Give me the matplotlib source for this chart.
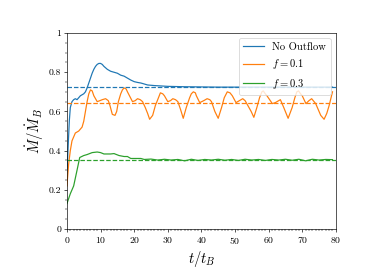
import numpy as np
import matplotlib
matplotlib.use('Agg')
import matplotlib.pyplot as plt
from matplotlib.ticker import MultipleLocator, FuncFormatter

plt.rcParams['font.family'] = 'serif'
plt.rcParams['font.serif'] = ['cmr10', 'DejaVu Serif']
plt.rcParams['mathtext.fontset'] = 'cm'
plt.rcParams['axes.unicode_minus'] = False
plt.rcParams['axes.formatter.use_mathtext'] = True

# ==================== data ====================
t_none = [0, 0.3, 0.7, 1.0, 1.5, 2, 2.5, 3, 3.5, 4, 4.5, 5, 5.5, 6, 6.5, 7, 7.5, 8, 8.5, 9,
          9.5, 10, 10.5, 11, 12, 13, 14, 15, 16, 17, 18, 19, 20, 21, 22, 23, 24, 26, 28, 30,
          35, 40, 45, 50, 55, 60, 65, 70, 75, 79]
mdot_none = [0.27, 0.40, 0.55, 0.62, 0.65, 0.66, 0.665, 0.66, 0.67, 0.68, 0.685, 0.69, 0.70,
             0.72, 0.745, 0.77, 0.795, 0.815, 0.83, 0.84, 0.845, 0.845, 0.84, 0.83, 0.815,
             0.805, 0.80, 0.795, 0.785, 0.78, 0.77, 0.76, 0.752, 0.748, 0.745, 0.74, 0.735,
             0.732, 0.73, 0.728, 0.726, 0.725, 0.724, 0.724, 0.724, 0.724, 0.724, 0.724,
             0.724, 0.724]

t_f01 = [0, 0.5, 1.0, 1.5, 2.5, 3.5, 4.5, 5.0, 5.5, 6.0, 6.5, 7.0, 7.5, 8.0, 9.0, 9.8, 10.5,
         11.5, 12.3, 12.8, 13.5, 14.3, 14.8, 15.3, 16.0, 16.5, 17.0, 17.6, 18.0, 19.5, 20.3,
         21.0, 21.8, 22.5, 23.3, 24.0, 24.6, 25.5, 26.3, 27.0, 27.8, 28.5, 29.0, 30.0, 30.8,
         31.5, 32.3, 33.0, 33.8, 34.6, 35.5, 36.5, 37.0, 37.6, 38.2, 38.5, 39.5, 40.7, 41.7,
         42.5, 43.0, 44.0, 45.0, 46.0, 46.8, 47.7, 48.5, 49.2, 50.3, 51.3, 52.3, 53.0, 53.5,
         54.8, 55.6, 56.5, 57.3, 58.0, 58.4, 59.0, 59.5, 61.1, 62.0, 62.5, 63.5, 64.5, 65.8,
         67.0, 67.8, 68.4, 68.9, 69.5, 70.0, 71.1, 72.0, 72.8, 74.0, 75.0, 75.5, 76.5, 77.3,
         78.0, 79.0]
mdot_f01 = [0.22, 0.33, 0.40, 0.45, 0.49, 0.50, 0.52, 0.55, 0.60, 0.65, 0.69, 0.71, 0.705,
            0.68, 0.65, 0.655, 0.66, 0.665, 0.655, 0.63, 0.585, 0.58, 0.60, 0.65, 0.69, 0.71,
            0.72, 0.715, 0.70, 0.65, 0.655, 0.665, 0.66, 0.65, 0.62, 0.59, 0.56, 0.58, 0.63,
            0.66, 0.695, 0.69, 0.68, 0.65, 0.655, 0.665, 0.66, 0.65, 0.61, 0.565, 0.62, 0.67,
            0.69, 0.70, 0.695, 0.68, 0.645, 0.655, 0.665, 0.66, 0.65, 0.60, 0.565, 0.62, 0.67,
            0.70, 0.695, 0.68, 0.645, 0.655, 0.665, 0.655, 0.64, 0.60, 0.57, 0.62, 0.67, 0.70,
            0.705, 0.69, 0.68, 0.64, 0.645, 0.65, 0.66, 0.62, 0.565, 0.62, 0.67, 0.70, 0.705,
            0.69, 0.68, 0.64, 0.655, 0.665, 0.64, 0.60, 0.58, 0.56, 0.59, 0.63, 0.70]

t_f03 = [0, 1, 2, 3, 3.8, 5, 6, 7.5, 9, 10, 11, 13, 14, 15.5, 17, 18, 19, 20, 22, 23, 25,
         27, 29, 31, 33, 35, 37, 39, 41, 43, 45, 47, 49, 51, 53, 55, 57, 59, 61, 63, 65, 67,
         69, 71, 73, 75, 77, 79]
mdot_f03 = [0.13, 0.18, 0.22, 0.30, 0.365, 0.375, 0.38, 0.39, 0.393, 0.39, 0.383, 0.383,
            0.385, 0.375, 0.37, 0.37, 0.36, 0.36, 0.36, 0.355, 0.357, 0.352, 0.356, 0.352,
            0.355, 0.348, 0.356, 0.35, 0.355, 0.352, 0.356, 0.351, 0.355, 0.35, 0.356, 0.352,
            0.355, 0.35, 0.355, 0.352, 0.356, 0.351, 0.356, 0.348, 0.356, 0.352, 0.355, 0.354]

mean_none = 0.724
mean_f01 = 0.643
mean_f03 = 0.350

labels = ['No Outflow', '$f = 0.1$', '$f = 0.3$']
# =============================================

fig = plt.figure(figsize=(6.4, 280 / 58.4375), dpi=58.4375)
ax = fig.add_axes([0.179, 0.182, 0.719, 0.700])

ax.plot(t_none, mdot_none, color='C0', label=labels[0])
ax.plot(t_f01, mdot_f01, color='C1', label=labels[1])
ax.plot(t_f03, mdot_f03, color='C2', label=labels[2])
ax.axhline(mean_none, color='C0', linestyle='--')
ax.axhline(mean_f01, color='C1', linestyle='--')
ax.axhline(mean_f03, color='C2', linestyle='--')

ax.set_xlim(0, 80)
ax.set_ylim(0, 1)
ax.xaxis.set_major_locator(MultipleLocator(10))
ax.xaxis.set_minor_locator(MultipleLocator(1))
ax.yaxis.set_major_locator(MultipleLocator(0.2))
ax.yaxis.set_minor_locator(MultipleLocator(0.05))
ax.yaxis.set_major_formatter(FuncFormatter(lambda v, p: '%g' % round(v, 2)))
ax.tick_params(labelsize=12)

ax.set_xlabel('$t/t_B$', fontsize=18)
ax.set_ylabel(r'$\dot{M}/\dot{M}_B$', fontsize=18)
ax.legend(loc='upper right', fontsize=13)

plt.savefig('out.png', dpi=58.4375)
